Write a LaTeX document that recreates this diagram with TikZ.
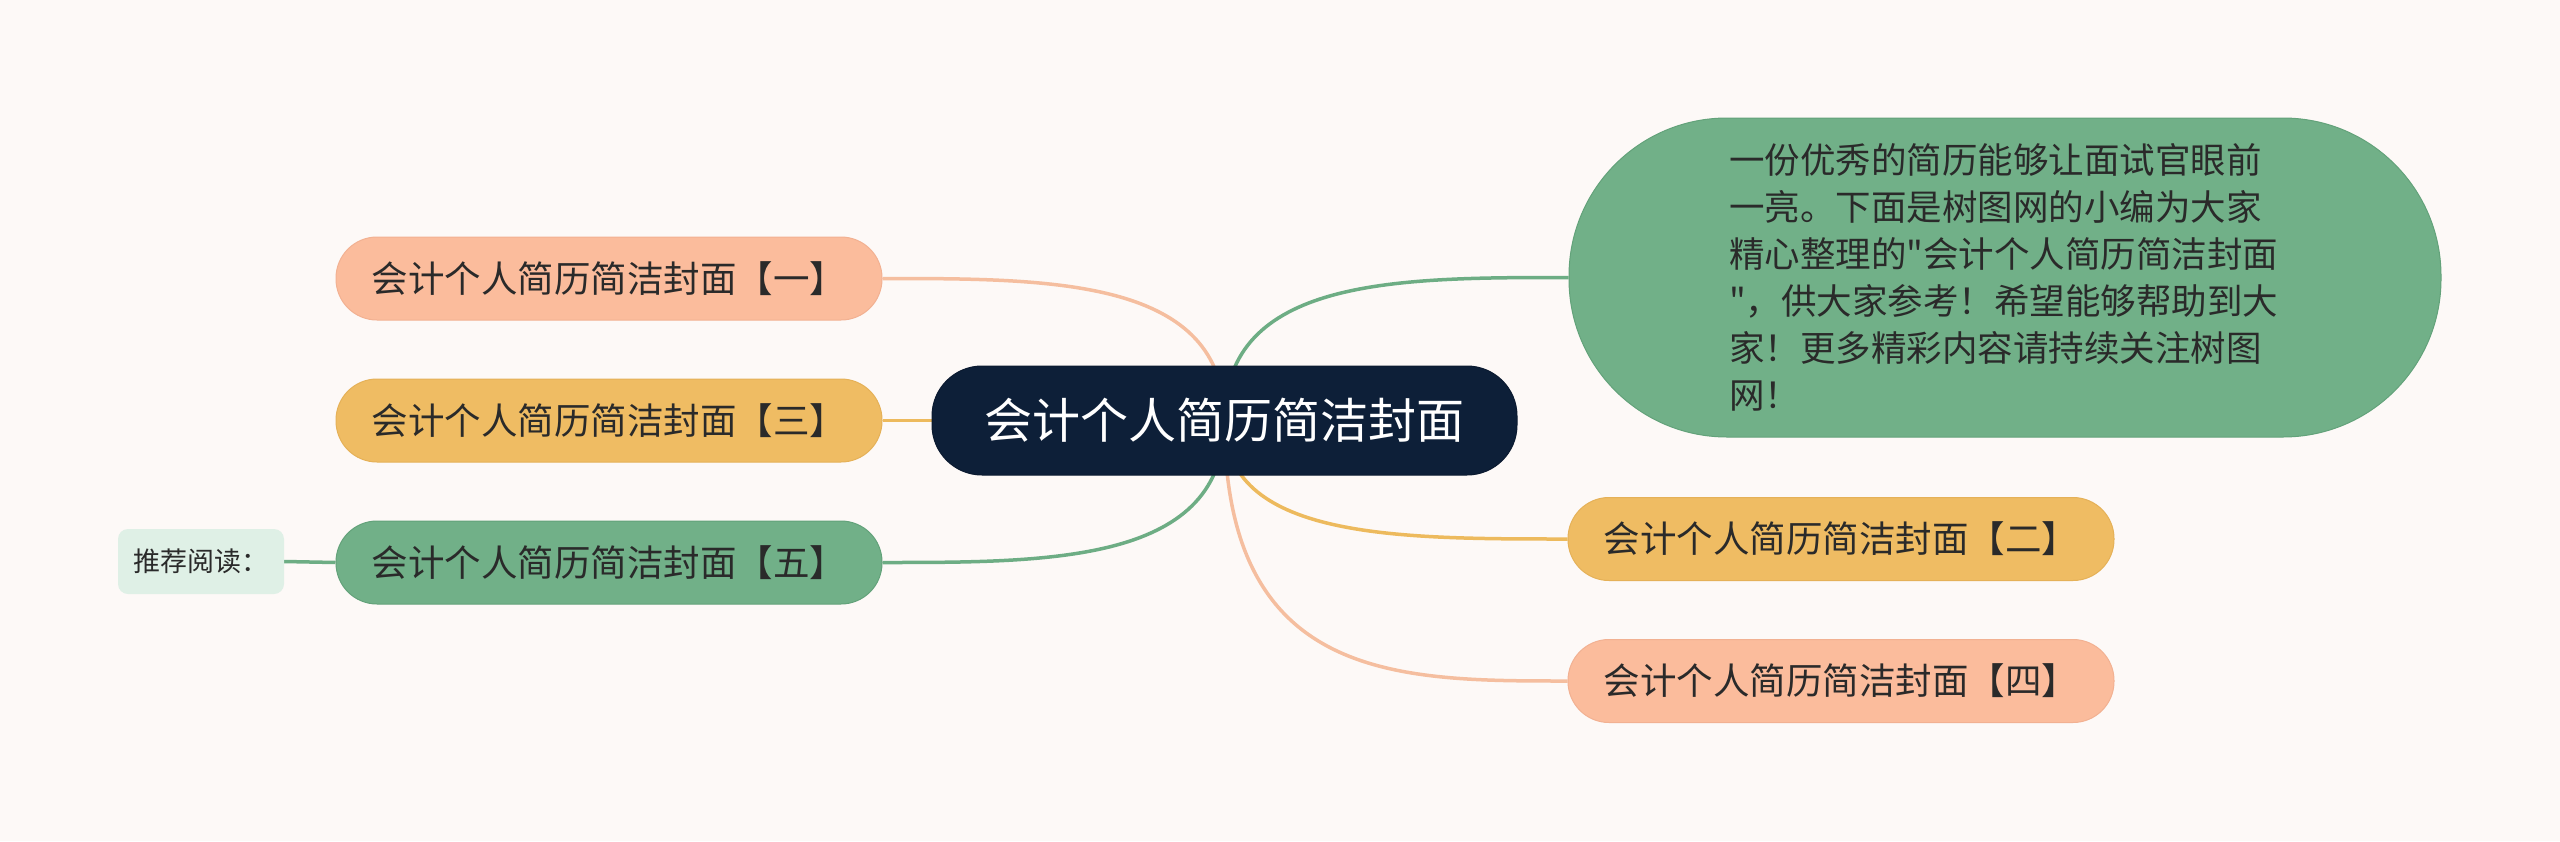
\documentclass[tikz,border=0pt]{standalone}
\usepackage{fontspec}
\newfontfamily\cjk{Noto Sans CJK SC}
\usetikzlibrary{calc}
\definecolor{bgc}{HTML}{FDF9F7}
\definecolor{navy}{HTML}{0D1F38}
\definecolor{pinkf}{HTML}{FBBC9C}
\definecolor{pinkd}{HTML}{F2B192}
\definecolor{yelf}{HTML}{EFBC63}
\definecolor{yeld}{HTML}{E5B158}
\definecolor{grnf}{HTML}{71B088}
\definecolor{grnd}{HTML}{63A27A}
\definecolor{tagf}{HTML}{DFF0E6}
\definecolor{txt}{HTML}{2A2A2A}
\definecolor{pinkl}{HTML}{F5BE9F}
\definecolor{yell}{HTML}{EDBA5D}
\definecolor{grnl}{HTML}{6DAD84}
\pgfdeclarelayer{bg}
\pgfdeclarelayer{lines}
\pgfsetlayers{bg,lines,main}
\tikzset{
  centernode/.style={fill=navy, draw=navy!85!black, line width=1pt, rounded corners=50pt,
    minimum width=585pt, minimum height=109pt, inner sep=0pt, text=white,
    font=\cjk\fontsize{48}{56}\selectfont},
  topic/.style={rounded corners=41pt, minimum width=546pt, minimum height=83pt, inner sep=0pt,
    text=txt, line width=1pt, font=\cjk\fontsize{36.5}{42}\selectfont},
  pinktopic/.style={topic, fill=pinkf, draw=pinkd},
  yeltopic/.style={topic, fill=yelf, draw=yeld},
  grntopic/.style={topic, fill=grnf, draw=grnd},
  bignode/.style={fill=grnf, draw=grnd, line width=1pt, rounded corners=158pt,
    minimum width=872pt, minimum height=319pt, inner sep=0pt, text=txt,
    font=\cjk\fontsize{35.5}{47}\selectfont},
  tagnode/.style={fill=tagf, rounded corners=10pt, minimum width=166pt, minimum height=65pt,
    inner sep=0pt, text=txt, font=\cjk\fontsize{27}{32}\selectfont},
  conn/.style={line width=3.5pt},
  branch/.style={conn, to path={.. controls (\tikztostart |- \tikztotarget) and ($(\tikztostart |- \tikztotarget)!0.5!(\tikztotarget)$) .. (\tikztotarget)}}
}
\begin{document}
\begin{tikzpicture}[x=1pt,y=-1pt]
\begin{pgfonlayer}{bg}
\fill[bgc] (0,0) rectangle (2560,841);
\end{pgfonlayer}
\useasboundingbox (0,0) rectangle (2560,841);

\node[centernode] (c) at (1224.5,420.5) {会计个人简历简洁封面};
\node[pinktopic] (n1) at (609,278.5) {会计个人简历简洁封面【一】};
\node[yeltopic] (n3) at (609,420.5) {会计个人简历简洁封面【三】};
\node[grntopic] (n5) at (609,562.5) {会计个人简历简洁封面【五】};
\node[yeltopic] (n2) at (1841,539) {会计个人简历简洁封面【二】};
\node[pinktopic] (n4) at (1841,681) {会计个人简历简洁封面【四】};
\node[bignode] (big) at (2005,277.5) {\parbox{552pt}{\raggedright
一份优秀的简历能够让面试官眼前\\
一亮。下面是树图网的小编为大家\\
精心整理的"会计个人简历简洁封面\\
"，供大家参考！希望能够帮助到大\\
家！更多精彩内容请持续关注树图\\
网！}};
\node[tagnode] (t) at (201,561.5) {推荐阅读：};

\begin{pgfonlayer}{lines}
\draw[branch, pinkl] (c.center) to (n1.east);
\draw[conn, yell] (c.center) -- (n3.east);
\draw[branch, grnl] (c.center) to (n5.east);
\draw[branch, grnl] (c.center) to (big.west);
\draw[branch, yell] (c.center) to (n2.west);
\draw[branch, pinkl] (c.center) to (n4.west);
\draw[conn, grnl] (t.east) -- (n5.west);
\end{pgfonlayer}
\end{tikzpicture}
\end{document}
